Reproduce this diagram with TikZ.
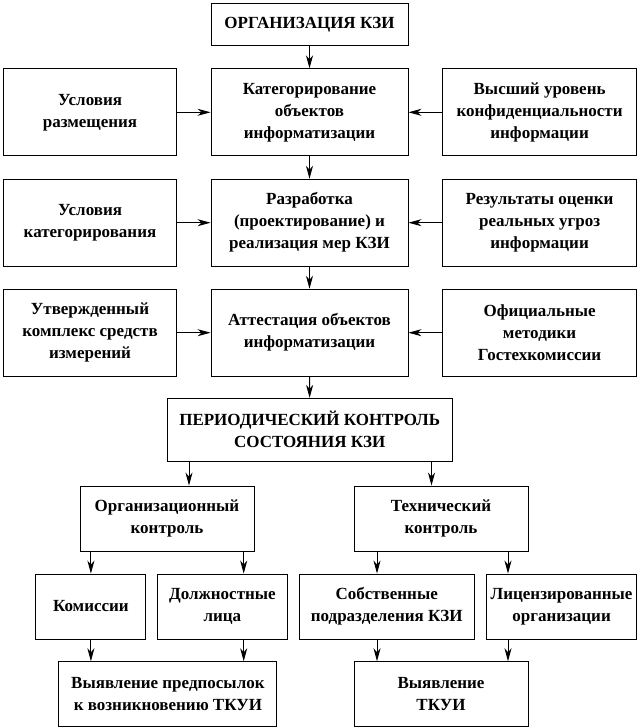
\documentclass[tikz,border=0pt]{standalone}
\usepackage{fontspec}
\setmainfont{Liberation Serif}
\newfontfamily\boxfont{Liberation Serif}
\usetikzlibrary{arrows.meta}

\begin{document}
\begin{tikzpicture}[x=1pt, y=-1pt,
        box/.style={draw, line width=0.9pt, align=center, inner sep=0pt,
            font=\boxfont\bfseries\fontsize{17}{22}\selectfont},
        arr/.style={line width=0.9pt, -{Stealth[length=13pt, width=7pt, inset=4pt]}}]
        \useasboundingbox (0, 0) rectangle (640, 728);

        % Draw the main column
        \node[box, minimum width=197, minimum height=42] (org) at (309.5, 24.6) {ОРГАНИЗАЦИЯ КЗИ};
        \node[box, minimum width=197, minimum height=87] (cat) at (309.5, 112.3) {Категорирование\\объектов\\информатизации};
        \node[box, minimum width=197, minimum height=87] (dev) at (309.5, 222.7) {Разработка\\(проектирование) и\\реализация мер КЗИ};
        \node[box, minimum width=197, minimum height=87] (att) at (309.5, 332.7) {Аттестация объектов\\информатизации};

        % Draw the side inputs
        \node[box, minimum width=173, minimum height=87] (place) at (90, 112.3) {Условия\\размещения};
        \node[box, minimum width=173, minimum height=87] (cond) at (90, 222.7) {Условия\\категорирования};
        \node[box, minimum width=173, minimum height=87] (tools) at (90, 332.7) {Утвержденный\\комплекс средств\\измерений};
        \node[box, minimum width=194, minimum height=87] (level) at (539.6, 112.3) {Высший уровень\\конфиденциальности\\информации};
        \node[box, minimum width=194, minimum height=87] (threat) at (539.6, 222.7) {Результаты оценки\\реальных угроз\\информации};
        \node[box, minimum width=194, minimum height=87] (method) at (539.6, 332.7) {Официальные\\методики\\Гостехкомиссии};

        % Draw the control part
        \node[box, minimum width=285, minimum height=63] (per) at (309.7, 429.8) {ПЕРИОДИЧЕСКИЙ КОНТРОЛЬ\\СОСТОЯНИЯ КЗИ};
        \node[box, minimum width=174, minimum height=65] (orgc) at (167, 518.5) {Организационный\\контроль};
        \node[box, minimum width=174, minimum height=65] (techc) at (441, 518.5) {Технический\\контроль};

        \node[box, minimum width=110, minimum height=65] (kom) at (90.9, 606.5) {Комиссии};
        \node[box, minimum width=130, minimum height=65] (off) at (222.4, 606.5) {Должностные\\лица};
        \node[box, minimum width=175, minimum height=65] (own) at (386.7, 606.5) {Собственные\\подразделения КЗИ};
        \node[box, minimum width=150, minimum height=65] (lic) at (561.6, 606.5) {Лицензированные\\организации};

        \node[box, minimum width=218, minimum height=65] (pre) at (167.9, 694.2) {Выявление предпосылок\\к возникновению ТКУИ};
        \node[box, minimum width=174, minimum height=65] (tkui) at (441, 694.2) {Выявление\\ТКУИ};

        % Draw the arrows
        \draw[arr] (org) -- (cat);
        \draw[arr] (cat) -- (dev);
        \draw[arr] (dev) -- (att);
        \draw[arr] (att) -- (per);
        \draw[arr] (place) -- (cat);
        \draw[arr] (cond) -- (dev);
        \draw[arr] (tools) -- (att);
        \draw[arr] (level) -- (cat);
        \draw[arr] (threat) -- (dev);
        \draw[arr] (method) -- (att);

        \draw[arr] ([xshift=22]orgc.north |- per.south) -- ([xshift=22]orgc.north);
        \draw[arr] ([xshift=-9.5]techc.north |- per.south) -- ([xshift=-9.5]techc.north);

        \draw[arr] (kom.north |- orgc.south) -- (kom.north);
        \draw[arr] ([xshift=21.3]off.north |- orgc.south) -- ([xshift=21.3]off.north);
        \draw[arr] ([xshift=-9.7]own.north |- techc.south) -- ([xshift=-9.7]own.north);
        \draw[arr] ([xshift=-53.6]lic.north |- techc.south) -- ([xshift=-53.6]lic.north);

        \draw[arr] (kom.south) -- (kom.south |- pre.north);
        \draw[arr] ([xshift=21.3]off.south) -- ([xshift=21.3]off.south |- pre.north);
        \draw[arr] ([xshift=-9.7]own.south) -- ([xshift=-9.7]own.south |- tkui.north);
        \draw[arr] ([xshift=-53.6]lic.south) -- ([xshift=-53.6]lic.south |- tkui.north);
\end{tikzpicture}
\end{document}
